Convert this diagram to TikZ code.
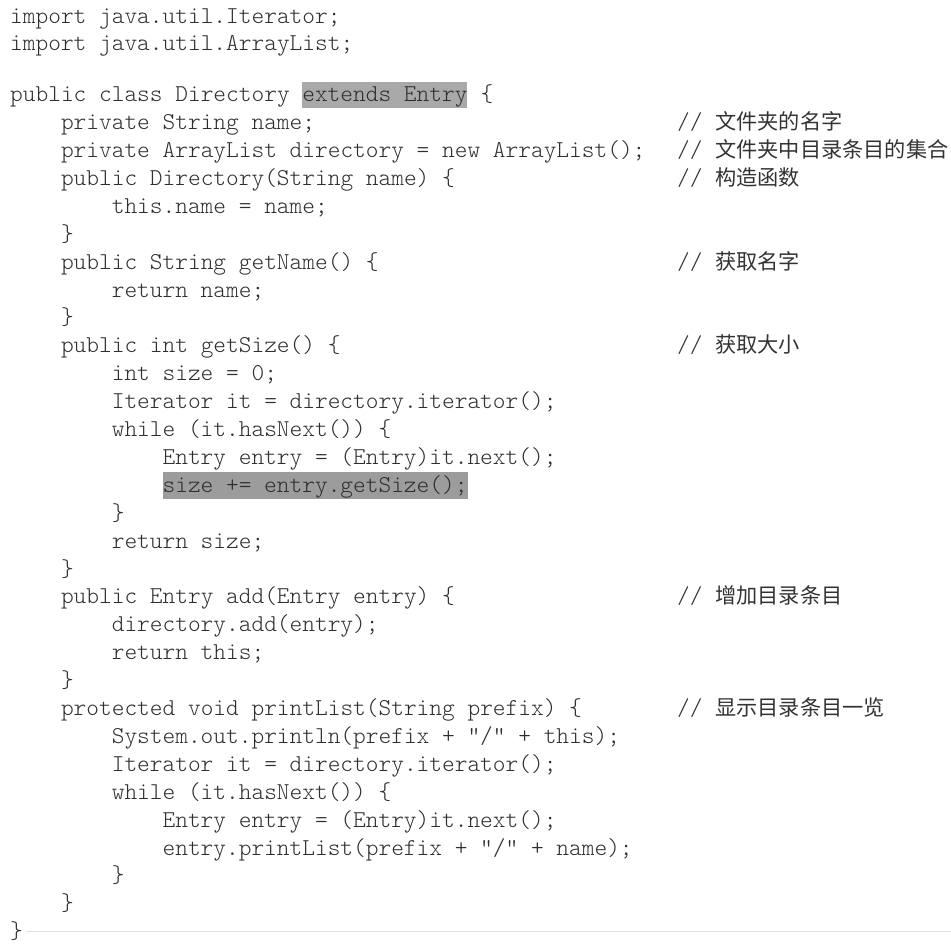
\documentclass[tikz,border=0pt]{standalone}
\usepackage{fontspec}
\setmonofont{Latin Modern Mono Light}
\newfontfamily\cjk{Noto Sans CJK SC}
\usetikzlibrary{positioning}
\definecolor{codegray}{HTML}{2E2E2E}
\definecolor{notegray}{HTML}{333333}
\definecolor{hlgray}{HTML}{A9A9A9}
\definecolor{hlgray2}{HTML}{9C9C9C}
\definecolor{rulegray}{HTML}{E2E2E2}
\tikzset{codeline/.style={anchor=base west, inner sep=0pt, text=codegray,
font=\ttfamily\fontsize{24.2}{24.2}\selectfont},
hlbox/.style={codeline, text height=20pt, text depth=6.5pt},
note/.style={codeline, text=notegray}}
\newcommand{\cmt}[1]{//\ {\cjk\fontsize{21.2}{21.2}\selectfont #1}}

\begin{document}
\begin{tikzpicture}[x=1pt,y=-1pt]
  \useasboundingbox (0,0) rectangle (951,943);
  % imports
  \node (imp1) [codeline] at (10,23) {import java.util.Iterator;};
  \node (imp2) [codeline] at (10,50) {import java.util.ArrayList;};
  % class head
  \node (cls) [codeline] at (10,101.7) {public class Directory};
  \node (ext) [hlbox, fill=hlgray] at (302.1,101.7) {extends Entry};
  \node (clsb) [codeline] at (480.4,101.7) {\{};
  % fields and constructor
  \node (fname) [codeline] at (60.8,129.6) {private String name;};
  \node (fdir) [codeline] at (60.8,157.5) {private ArrayList directory = new ArrayList();};
  \node (ctor) [codeline] at (60.8,185.4) {public Directory(String name) \{};
  \node (ctor1) [codeline] at (111.6,213.3) {this.name = name;};
  \node (ctor2) [codeline] at (60.8,241.2) {\}};
  % getName
  \node (gn) [codeline] at (60.8,269.1) {public String getName() \{};
  \node (gn1) [codeline] at (111.6,297.0) {return name;};
  \node (gn2) [codeline] at (60.8,324.9) {\}};
  % getSize
  \node (gs) [codeline] at (60.8,352.8) {public int getSize() \{};
  \node (gs1) [codeline] at (111.6,380.7) {int size = 0;};
  \node (gs2) [codeline] at (111.6,408.6) {Iterator it = directory.iterator();};
  \node (gs3) [codeline] at (111.6,436.5) {while (it.hasNext()) \{};
  \node (gs4) [codeline] at (162.4,464.4) {Entry entry = (Entry)it.next();};
  \node (gs5) [hlbox, fill=hlgray2] at (162.4,492.3) {size += entry.getSize();};
  \node (gs6) [codeline] at (111.6,520.2) {\}};
  \node (gs7) [codeline] at (111.6,548.1) {return size;};
  \node (gs8) [codeline] at (60.8,576.0) {\}};
  % add
  \node (ad) [codeline] at (60.8,603.9) {public Entry add(Entry entry) \{};
  \node (ad1) [codeline] at (111.6,631.8) {directory.add(entry);};
  \node (ad2) [codeline] at (111.6,659.7) {return this;};
  \node (ad3) [codeline] at (60.8,687.6) {\}};
  % printList
  \node (pl) [codeline] at (60.8,715.5) {protected void printList(String prefix) \{};
  \node (pl1) [codeline] at (111.6,743.4) {System.out.println(prefix + "/" + this);};
  \node (pl2) [codeline] at (111.6,771.3) {Iterator it = directory.iterator();};
  \node (pl3) [codeline] at (111.6,799.2) {while (it.hasNext()) \{};
  \node (pl4) [codeline] at (162.4,827.1) {Entry entry = (Entry)it.next();};
  \node (pl5) [codeline] at (162.4,855.0) {entry.printList(prefix + "/" + name);};
  \node (pl6) [codeline] at (111.6,882.9) {\}};
  \node (pl7) [codeline] at (60.8,910.8) {\}};
  \node (clse) [codeline] at (10,938.5) {\}};
  % comments
  \node (c1) [note] at (677,129.6) {\cmt{文件夹的名字}};
  \node (c2) [note] at (677,157.5) {\cmt{文件夹中目录条目的集合}};
  \node (c3) [note] at (677,185.4) {\cmt{构造函数}};
  \node (c4) [note] at (677,269.1) {\cmt{获取名字}};
  \node (c5) [note] at (677,352.8) {\cmt{获取大小}};
  \node (c6) [note] at (677,603.9) {\cmt{增加目录条目}};
  \node (c7) [note] at (677,715.5) {\cmt{显示目录条目一览}};
  % page rule
  \coordinate (ruleA) at (26,931);
  \coordinate (ruleB) at (951,931);
  \draw [rulegray, line width=0.8pt] (ruleA) -- (ruleB);
\end{tikzpicture}
\end{document}
